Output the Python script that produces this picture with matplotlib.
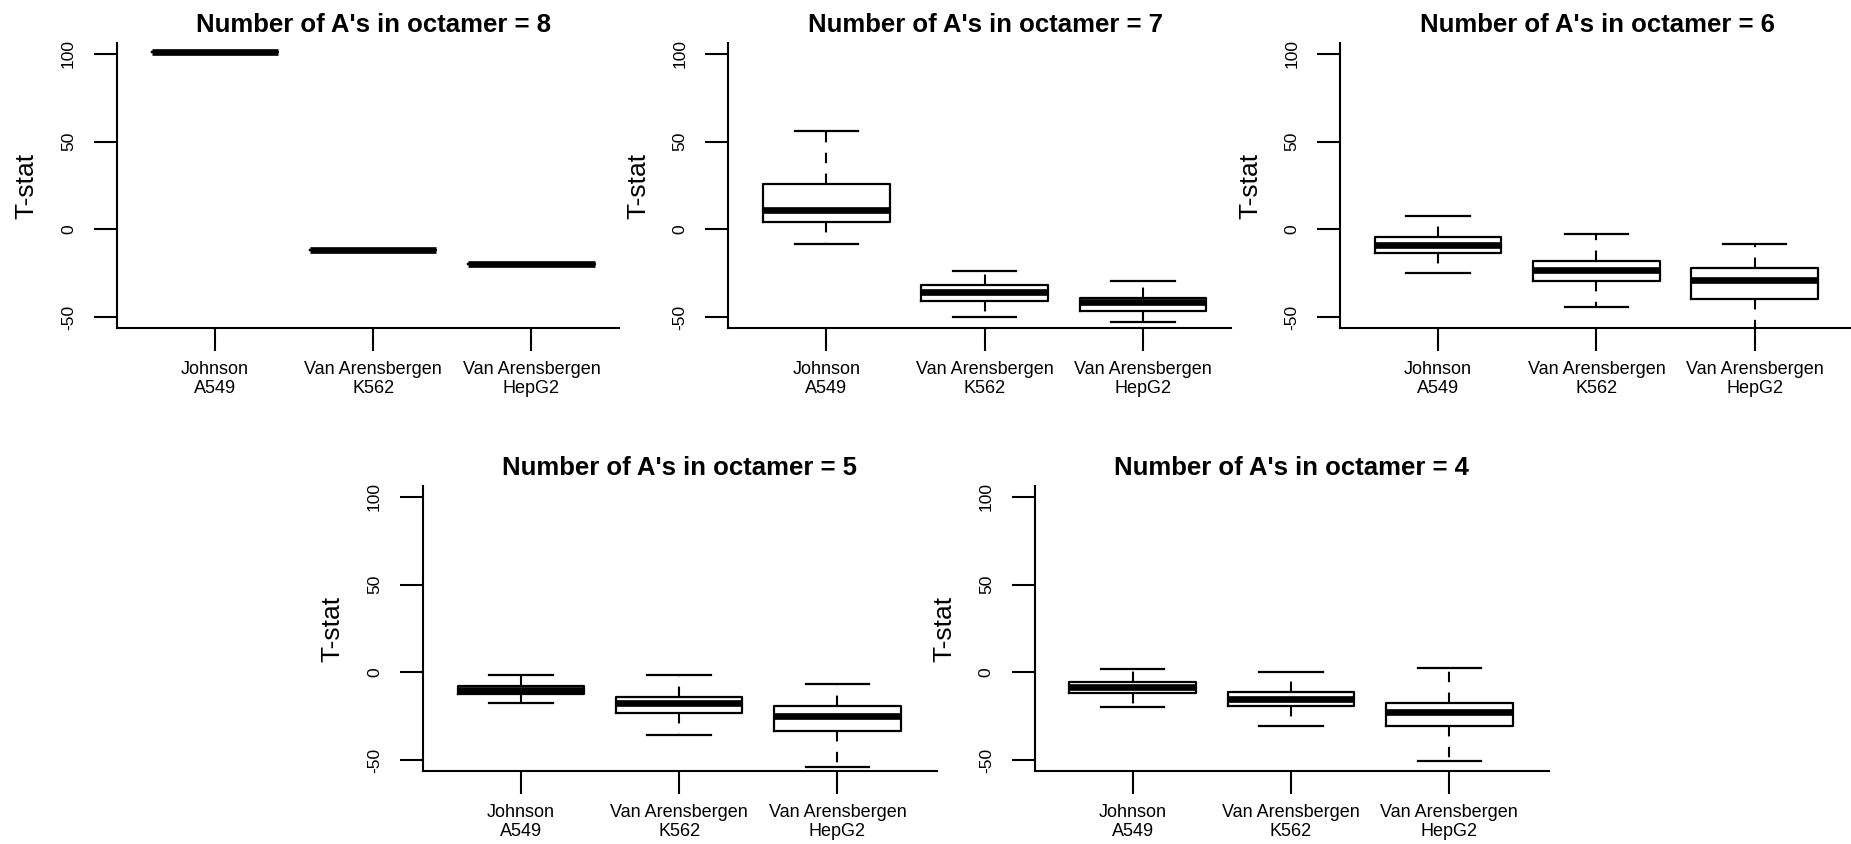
import matplotlib
matplotlib.use("Agg")
import matplotlib.pyplot as plt

plt.rcParams['font.family'] = ['Liberation Sans', 'DejaVu Sans']

# Data
groups = ["Johnson\nA549", "Van Arensbergen\nK562", "Van Arensbergen\nHepG2"]
n_as = [8, 7, 6, 5, 4]

whis_lo = [[101, -12, -20],
           [-8.2, -49.7, -53.0],
           [-24.9, -44.0, -62.0],
           [-17.6, -35.9, -54.1],
           [-19.5, -30.7, -50.7]]
q1 = [[101, -12, -20],
      [4.2, -40.7, -46.5],
      [-13.2, -29.4, -39.6],
      [-12.1, -23.3, -33.6],
      [-11.8, -19.4, -30.7]]
med = [[101, -12, -20],
       [11.1, -35.4, -41.1],
       [-9.0, -22.9, -29.1],
       [-9.9, -17.3, -24.7],
       [-8.3, -15.4, -22.6]]
q3 = [[101, -12, -20],
      [26.0, -31.4, -38.8],
      [-4.2, -18.2, -21.8],
      [-7.6, -13.9, -19.2],
      [-5.5, -11.4, -17.3]]
whis_hi = [[101, -12, -20],
           [56.2, -23.7, -29.6],
           [7.6, -2.9, -8.4],
           [-1.5, -1.5, -6.5],
           [1.9, 0.2, 2.3]]

W, H = 1851, 844
fig = plt.figure(figsize=(W / 100, H / 100), dpi=100)

# panel placement in pixels: left of y axis, bottom of x axis, right end of x axis line
lefts = [116.7, 728.3, 1340, 422.7, 1034.5]
bottoms = [327.7, 327.7, 327.7, 770.7, 770.7]
x_ends = [3.555, 3.555, 3.63, 3.63, 3.63]
ax_w = 514.5
ax_h = 284.4

for i, n in enumerate(n_as):
    ax = fig.add_axes([lefts[i] / W, 1 - bottoms[i] / H, ax_w / W, ax_h / H])
    stats = []
    for j in range(3):
        stats.append(dict(med=med[i][j], q1=q1[i][j], q3=q3[i][j],
                          whislo=whis_lo[i][j], whishi=whis_hi[i][j]))
    ax.bxp(stats, positions=[1, 2, 3], widths=0.8, capwidths=0.4,
           showfliers=False,
           boxprops=dict(color='black', linewidth=1.6),
           whiskerprops=dict(color='black', linewidth=1.5, linestyle=(0, (5, 5))),
           capprops=dict(color='black', linewidth=1.6),
           medianprops=dict(color='black', linewidth=4.8, solid_capstyle='butt'))

    ax.set_xlim(0.38, 3.63)
    ax.set_ylim(-56, 106)
    ax.spines['top'].set_visible(False)
    ax.spines['right'].set_visible(False)
    for s in ['left', 'bottom']:
        ax.spines[s].set_linewidth(1.5)
    ax.spines['bottom'].set_bounds(0.38, x_ends[i])

    ax.set_yticks([-50, 0, 50, 100])
    ax.set_yticklabels(['-50', '0', '50', '100'])
    ax.set_xticks([1, 2, 3])
    ax.set_xticklabels(groups, fontsize=13, linespacing=1.15)
    ax.tick_params(axis='y', labelrotation=90, labelsize=12.5, length=16.3,
                   width=1.5, pad=13)
    for lab in ax.get_yticklabels():
        lab.set_va('center')
    ax.tick_params(axis='x', length=16.3, width=1.5, pad=8)

    ax.text(-0.175, 0.5, 'T-stat', transform=ax.transAxes, rotation=90,
            ha='center', va='center', fontsize=19)
    ax.set_title("Number of A's in octamer = %d" % n, fontsize=18.5,
                 fontweight='bold', pad=8)

fig.savefig('out.png', dpi=100)
